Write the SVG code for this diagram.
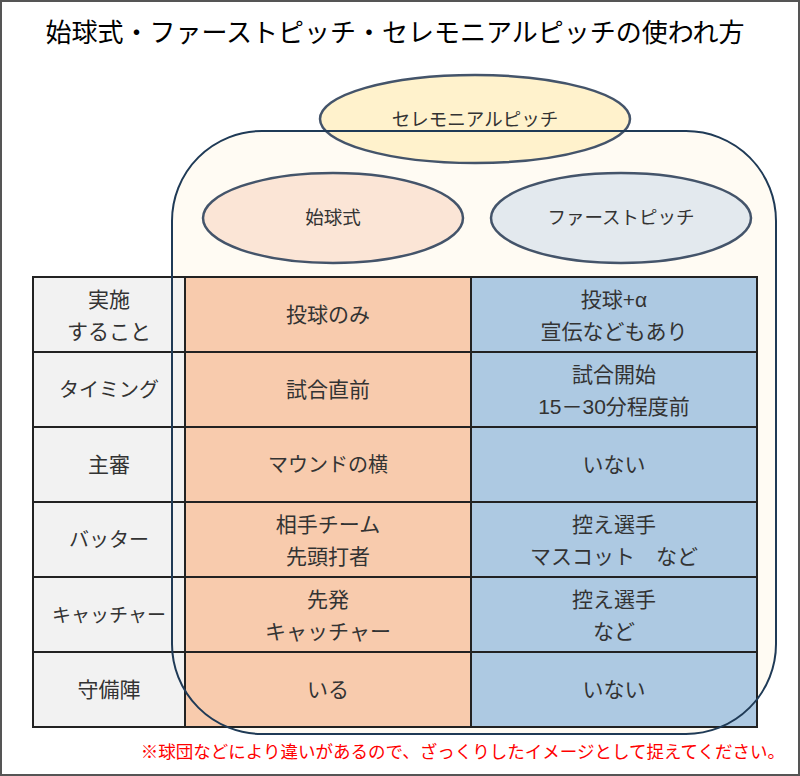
<svg xmlns="http://www.w3.org/2000/svg" width="800" height="776" viewBox="0 0 800 776">
<style>
text{font-family:"Liberation Sans","Noto Sans CJK JP",sans-serif;fill:#333;text-anchor:middle}
.t{font-size:21px}
.s{font-size:18.5px}
.lab{fill:#f2f2f2}.org{fill:#f8cbad}.blu{fill:#adc9e2}
.cell{stroke:#222;stroke-width:2}
.ell{stroke:#44546a;stroke-width:2.5}
</style>
<rect x="1" y="1" width="798" height="774" fill="#fff" stroke="#555" stroke-width="2"/>
<text x="395" y="42" style="fill:#000;font-size:26px">始球式・ファーストピッチ・セレモニアルピッチの使われ方</text>
<rect x="172" y="131" width="604" height="603" rx="90" fill="#fffbf3" stroke="none"/>
<g id="ceremonial"><ellipse class="ell" cx="475" cy="119" rx="155" ry="44" fill="#fff2cc"/><text class="s" x="475" y="126">セレモニアルピッチ</text></g>
<g id="shikyushiki"><ellipse class="ell" cx="333" cy="218" rx="130" ry="45" fill="#fbe5d6" stroke="#54606e"/><text class="s" x="333" y="224">始球式</text></g>
<g id="firstpitch"><ellipse class="ell" cx="621" cy="218" rx="130" ry="45" fill="#e3e9ee" stroke="#54606e"/><text class="s" x="621" y="224">ファーストピッチ</text></g>
<g id="table" class="t">
<g class="cell">
<rect class="lab" x="33" y="277" width="152" height="450"/>
<rect class="org" x="185" y="277" width="286" height="450"/>
<rect class="blu" x="471" y="277" width="286" height="450"/>
<path d="M33 352H757M33 427H757M33 502H757M33 577H757M33 652H757" fill="none"/>
</g>
<text x="109" y="307">実施</text><text x="109" y="339">すること</text>
<text x="328" y="322">投球のみ</text>
<text x="614" y="307">投球+α</text><text x="614" y="339">宣伝などもあり</text>
<text x="109" y="397" style="font-size:20px">タイミング</text>
<text x="328" y="397">試合直前</text>
<text x="614" y="382">試合開始</text><text x="614" y="414">15－30分程度前</text>
<text x="109" y="472">主審</text>
<text x="328" y="472" style="font-size:20px">マウンドの横</text>
<text x="614" y="472">いない</text>
<text x="109" y="547" style="font-size:20px">バッター</text>
<text x="328" y="532">相手チーム</text><text x="328" y="564">先頭打者</text>
<text x="614" y="532">控え選手</text><text x="614" y="564">マスコット　など</text>
<text x="109" y="622" style="font-size:19px">キャッチャー</text>
<text x="328" y="607">先発</text><text x="328" y="639">キャッチャー</text>
<text x="614" y="607">控え選手</text><text x="614" y="639">など</text>
<text x="109" y="697">守備陣</text>
<text x="328" y="697">いる</text>
<text x="614" y="697">いない</text>
</g>
<g id="connectors"><rect x="172" y="131" width="604" height="603" rx="90" fill="none" stroke="#1f3a56" stroke-width="2"/></g>
<text x="785" y="758" style="fill:#ff0000;text-anchor:end;font-size:17.5px">※球団などにより違いがあるので、ざっくりしたイメージとして捉えてください。</text>
</svg>
